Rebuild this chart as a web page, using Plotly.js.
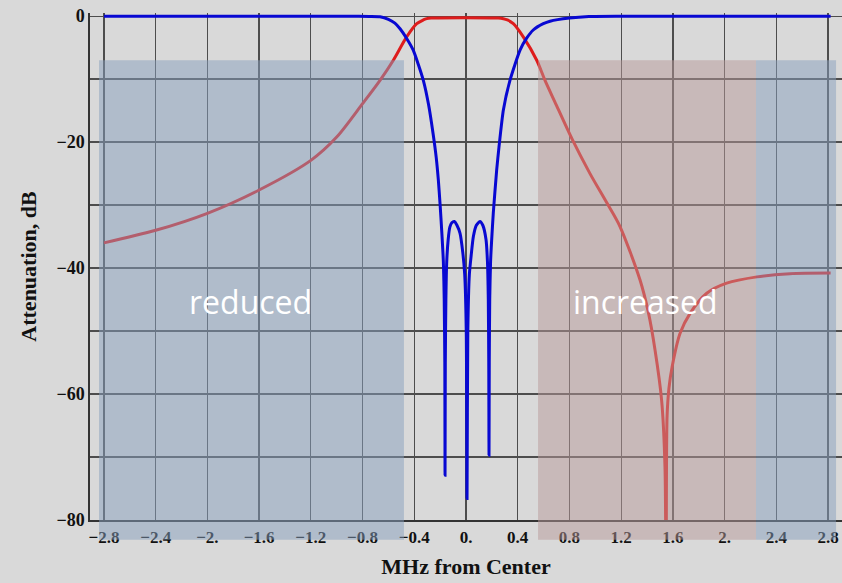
<!DOCTYPE html>
<html>
<head>
<meta charset="utf-8">
<script src="https://cdn.plot.ly/plotly-3.0.1.min.js"></script>
<style>
html,body{margin:0;padding:0;background:#d9d9d9;}
#chart{width:842px;height:583px;}
</style>
</head>
<body>
<div id="chart"></div>
<script>
// Red trace: filter transmission (MHz from center, dB)
const redFreq = [-2.8, -2.4, -2.0, -1.6, -1.2, -1.0, -0.8, -0.665, -0.562, -0.459, -0.381, -0.33, -0.304, -0.27,
                 0.25, 0.289, 0.32, 0.366, 0.443, 0.547, 0.611, 0.687, 0.82, 0.959, 1.088, 1.191, 1.346, 1.41,
                 1.462, 1.513, 1.539, 1.548, 1.555, 1.57, 1.594, 1.655, 1.733, 1.862, 2.016, 2.25, 2.506, 2.82];
const redAtten = [-36, -34, -31.3, -27.6, -22.9, -19.2, -13.9, -10.2, -7, -3.3, -1.2, -0.6, -0.4, -0.3,
                  -0.3, -0.4, -0.6, -1.2, -3.3, -7, -10.2, -13.6, -19.5, -25, -29.6, -33.4, -41.9, -47,
                  -53, -61, -71.6, -100, -63.6, -59, -55.7, -50.4, -47.2, -44, -42.4, -41.4, -40.9, -40.8];

// Blue trace: return loss (MHz from center, dB)
const blueFreq = [-2.8, -1.2, -0.9, -0.75, -0.665, -0.6, -0.55, -0.51, -0.46, -0.408, -0.37, -0.33, -0.29, -0.255,
                  -0.23, -0.214, -0.2, -0.188, -0.175, -0.1685, -0.164, -0.162, -0.16, -0.1555, -0.149, -0.138,
                  -0.125, -0.11, -0.09, -0.07, -0.046, -0.025, -0.01, 0.002, 0.008, 0.014, 0.026, 0.04, 0.057,
                  0.08, 0.108, 0.13, 0.155, 0.166, 0.1725, 0.176, 0.178, 0.18, 0.1835, 0.19, 0.2, 0.211, 0.237,
                  0.255, 0.289, 0.34, 0.418, 0.469, 0.52, 0.598, 0.65, 0.8, 0.95, 1.2, 2.82];
const blueAtten = [0, 0, -0.02, -0.05, -0.1, -0.5, -1.1, -2, -3.5, -5.4, -7.6, -10.2, -14, -18.6,
                   -22.5, -26, -30, -34, -39, -45, -55, -72.9, -55, -45, -39, -35.5,
                   -33.5, -32.8, -32.6, -33.2, -34.5, -37.5, -41, -50, -76.6, -50, -41, -38, -35,
                   -33.2, -32.6, -33.2, -35.5, -39, -45, -55, -69.7, -55, -45, -39, -35, -31.3, -24.5,
                   -20.8, -14.9, -10.2, -5.4, -3.5, -2.2, -1.2, -0.8, -0.3, -0.05, 0, 0];

const xTickVals = [-2.8, -2.4, -2.0, -1.6, -1.2, -0.8, -0.4, 0, 0.4, 0.8, 1.2, 1.6, 2.0, 2.4, 2.8];
const xTickText = ['\u22122.8', '\u22122.4', '\u22122.', '\u22121.6', '\u22121.2', '\u22120.8', '\u22120.4',
                   '0.', '0.4', '0.8', '1.2', '1.6', '2.', '2.4', '2.8'];
const yTickVals = [0, -10, -20, -30, -40, -50, -60, -70, -80];
const yTickText = ['0', '', '\u221220', '', '\u221240', '', '\u221260', '', '\u221280'];

const regionLabels = ['reduced', 'increased'];
const regionLabelFreq = [-1.663, 1.392];
const regionLabelAtten = [-45.3, -45.3];

const serif = '"Liberation Serif", "DejaVu Serif", serif';

const traces = [
  {x: redFreq, y: redAtten, type: 'scatter', mode: 'lines',
   line: {color: 'rgb(222,28,28)', width: 3, shape: 'spline', smoothing: 0.8}, hoverinfo: 'skip'},
  {x: blueFreq, y: blueAtten, type: 'scatter', mode: 'lines',
   line: {color: 'rgb(8,8,210)', width: 3, shape: 'spline', smoothing: 0.6}, hoverinfo: 'skip'}
];

const layout = {
  width: 842, height: 583,
  margin: {l: 90, r: 0, t: 13, b: 63, pad: 0},
  paper_bgcolor: '#d9d9d9',
  plot_bgcolor: '#d9d9d9',
  showlegend: false,
  font: {family: serif, color: '#111'},
  xaxis: {
    range: [-2.908, 2.908], autorange: false,
    tickmode: 'array', tickvals: xTickVals, ticktext: xTickText,
    ticks: '', ticklabelstandoff: 1,
    tickfont: {family: serif, size: 17, color: '#111', weight: 'bold'},
    showgrid: true, gridcolor: '#4d4d4d', gridwidth: 1.3,
    zeroline: false, showline: true, linecolor: '#333', linewidth: 1.6,
    automargin: false,
    title: {text: 'MHz from Center', font: {family: serif, size: 22, color: '#111', weight: 'bold'}, standoff: 12}
  },
  yaxis: {
    range: [-80, 0.5], autorange: false,
    tickmode: 'array', tickvals: yTickVals, ticktext: yTickText,
    ticks: '', ticklabelstandoff: 0,
    tickfont: {family: serif, size: 18, color: '#111', weight: 'bold'},
    showgrid: true, gridcolor: '#4d4d4d', gridwidth: 1.3,
    zeroline: false, showline: true, linecolor: '#333', linewidth: 1.6,
    automargin: false,
    title: {text: 'Attenuation, dB', font: {family: serif, size: 22, color: '#111', weight: 'bold'}, standoff: 14}
  },
  shapes: [
    {type: 'rect', layer: 'above', xref: 'x', yref: 'paper', x0: -2.838, x1: -0.48, y0: -0.039, y1: 0.907,
     fillcolor: 'rgba(135,159,189,0.5)', line: {width: 0}},
    {type: 'rect', layer: 'above', xref: 'x', yref: 'paper', x0: 0.557, x1: 2.243, y0: -0.039, y1: 0.907,
     fillcolor: 'rgba(183,153,154,0.5)', line: {width: 0}},
    {type: 'rect', layer: 'above', xref: 'x', yref: 'paper', x0: 2.243, x1: 2.862, y0: -0.039, y1: 0.907,
     fillcolor: 'rgba(135,159,189,0.5)', line: {width: 0}}
  ],
  annotations: regionLabels.map((t, i) => ({
    text: t, x: regionLabelFreq[i], y: regionLabelAtten[i], xref: 'x', yref: 'y',
    showarrow: false, xanchor: 'center', yanchor: 'middle',
    font: {family: '"Open Sans", "Noto Sans", sans-serif', size: 32, color: '#ffffff'}
  }))
};

Plotly.newPlot('chart', traces, layout, {staticPlot: true, displayModeBar: false});
</script>
</body>
</html>
